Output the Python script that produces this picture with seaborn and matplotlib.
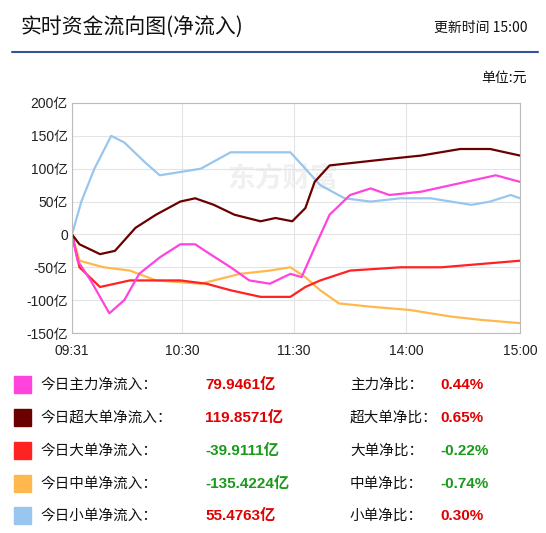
import matplotlib
matplotlib.use("Agg")
import matplotlib.pyplot as plt
import seaborn as sns
import pandas as pd
from matplotlib.patches import Rectangle

sns.set_style("white")
plt.rcParams['font.family'] = ['Noto Sans CJK SC', 'DejaVu Sans']

names = ["主力", "超大单", "大单", "中单", "小单"]
colors = ["#FF44DD", "#6B0000", "#FF2222", "#FFB84D", "#99C6EE"]

x_main = [0, 3, 10, 20, 28, 36, 47, 58, 66, 74, 85, 95, 106, 117, 123, 130, 138, 149, 160, 170, 187, 203, 219, 227, 240]
y_main = [0, -40, -70, -120, -100, -60, -35, -15, -15, -30, -50, -70, -75, -60, -65, -20, 30, 60, 70, 60, 65, 75, 85, 90, 80]
x_super = [0, 4, 15, 23, 34, 45, 58, 66, 76, 87, 101, 109, 118, 125, 130, 138, 154, 170, 187, 208, 224, 240]
y_super = [0, -15, -30, -25, 10, 30, 50, 55, 45, 30, 20, 25, 20, 40, 80, 105, 110, 115, 120, 130, 130, 120]
x_big = [0, 4, 15, 31, 47, 58, 72, 85, 101, 117, 125, 133, 149, 176, 198, 219, 240]
y_big = [0, -50, -80, -70, -70, -70, -75, -85, -95, -95, -80, -70, -55, -50, -50, -45, -40]
x_mid = [0, 4, 17, 31, 45, 69, 90, 106, 117, 125, 133, 143, 160, 181, 203, 219, 240]
y_mid = [0, -40, -50, -55, -70, -75, -60, -55, -50, -65, -85, -105, -110, -115, -125, -130, -135]
x_small = [0, 5, 12, 21, 28, 39, 47, 58, 69, 85, 101, 117, 125, 133, 146, 160, 176, 192, 214, 224, 235, 240]
y_small = [0, 50, 100, 150, 140, 110, 90, 95, 100, 125, 125, 125, 100, 75, 55, 50, 55, 55, 45, 50, 60, 55]

xticks = [0, 59, 119, 179, 240]
xticklabels = ["09:31", "10:30", "11:30", "14:00", "15:00"]
yticks = [200, 150, 100, 50, 0, -50, -100, -150]
yticklabels = ["200亿", "150亿", "100亿", "50亿", "0", "-50亿", "-100亿", "-150亿"]

row_labels = ["今日主力净流入：", "今日超大单净流入：", "今日大单净流入：", "今日中单净流入：", "今日小单净流入："]
row_values = ["79.9461亿", "119.8571亿", "-39.9111亿", "-135.4224亿", "55.4763亿"]
ratio_labels = ["主力净比：", "超大单净比：", "大单净比：", "中单净比：", "小单净比："]
ratio_values = ["0.44%", "0.65%", "-0.22%", "-0.74%", "0.30%"]

W, H = 546, 533
fig = plt.figure(figsize=(W/100, H/100), dpi=100)
ax = fig.add_axes([72/W, 1-333/H, (520-72)/W, (333-103)/H])

series = [(x_main, y_main), (x_super, y_super), (x_big, y_big), (x_mid, y_mid), (x_small, y_small)]
order = [4, 3, 2, 0, 1]
for i in order:
    df = pd.DataFrame({"t": series[i][0], "v": series[i][1]})
    sns.lineplot(data=df, x="t", y="v", ax=ax, color=colors[i], lw=1.6)

ax.set_xlim(0, 240)
ax.set_ylim(-150, 200)
ax.set_xticks(xticks)
ax.set_xticklabels(xticklabels, fontsize=10, family=['Liberation Sans', 'Noto Sans CJK SC'])
ax.set_yticks(yticks)
ax.set_yticklabels(yticklabels, fontsize=10, family=['Liberation Sans', 'Noto Sans CJK SC'])
ax.set_xlabel(""); ax.set_ylabel("")
ax.grid(True, color="#E4E4E4", lw=0.8)
for s in ax.spines.values():
    s.set_color("#BBBBBB")
ax.tick_params(axis="x", length=0, pad=8, colors="#222222")
ax.tick_params(axis="y", length=0, pad=3, colors="#222222")
ax.text(0.47, 0.67, "东方财富", transform=ax.transAxes, fontsize=20, color="#F0F0F0",
        ha="center", va="center", zorder=0, fontweight="bold")

def fy(y):
    return 1 - y/H

num_font = ['Liberation Sans', 'Noto Sans CJK SC']
fig.text(20/W, fy(28), "实时资金流向图(净流入)", fontsize=15, va="center", color="#111111")
fig.text(527/W, fy(28), "更新时间 15:00", fontsize=10, va="center", ha="right", color="#111111")
fig.add_artist(plt.Line2D([12/W, 538/W], [fy(52), fy(52)], color="#2F5597", lw=1.5))
fig.text(527/W, fy(78), "单位:元", fontsize=10, va="center", ha="right", color="#111111")

ys = [385, 418, 451, 484, 516]
for i in range(5):
    y = ys[i]
    fig.add_artist(Rectangle((14/W, fy(y+8)), 17/W, 17/H, color=colors[i], transform=fig.transFigure))
    fig.text(40/W, fy(y), row_labels[i], fontsize=10.5, va="center", color="#111111")
    vc = "#E00000" if not row_values[i].startswith("-") else "#1A9A1A"
    fig.text(205/W, fy(y), row_values[i], fontsize=11, va="center", color=vc, fontweight="bold", family=num_font)
    fig.text(350/W, fy(y), ratio_labels[i], fontsize=10.5, va="center", color="#111111")
    rc = "#E00000" if not ratio_values[i].startswith("-") else "#1A9A1A"
    fig.text(440/W, fy(y), ratio_values[i], fontsize=11, va="center", color=rc, fontweight="bold", family=num_font)

fig.savefig("out.png", dpi=100)
